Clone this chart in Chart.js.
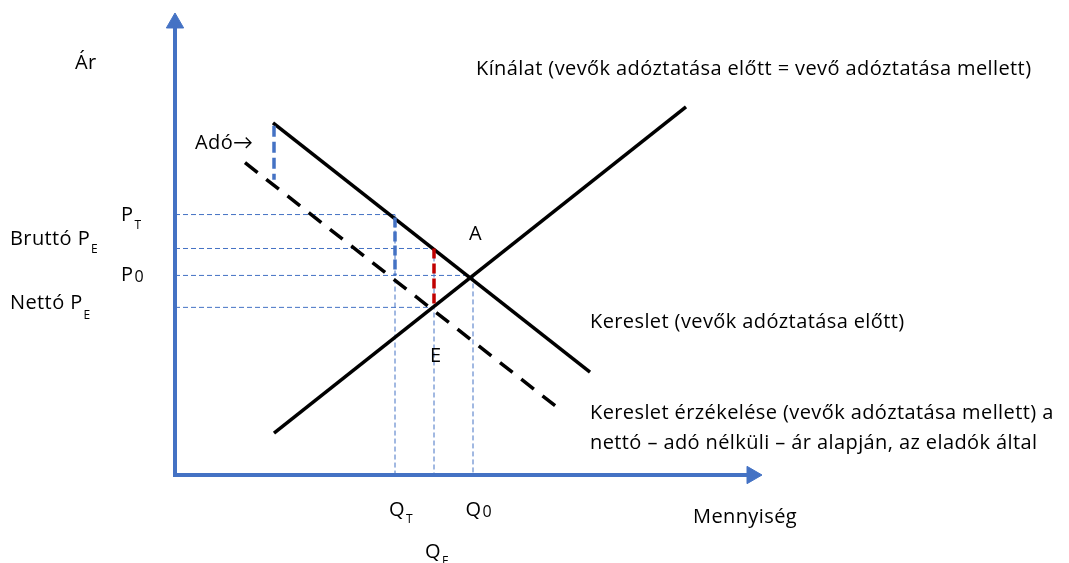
<!DOCTYPE html>
<html>
<head>
<meta charset="utf-8">
<script src="https://cdn.jsdelivr.net/npm/chart.js@4.4.1/dist/chart.umd.min.js"></script>
<style>
  html, body { margin: 0; padding: 0; background: #fff; }
  canvas { display: block; }
</style>
</head>
<body>
<canvas id="taxChart" width="1069" height="563"></canvas>
<script>
// curves (quantity, price)
const supplyQ = [19.8, 102.2];
const supplyP = [8.4, 73.8];
const demandQ = [19.6, 83.0];
const demandP = [70.6, 20.6];
const perceivedQ = [14.0, 77.4];
const perceivedP = [62.6, 12.8];

// marked levels
const priceNames = ['P_T', 'Bruttó P_E', 'P_0', 'Nettó P_E'];
const priceLevels = [52.2, 45.4, 40.0, 33.6];
const quantityNames = ['Q_T', 'Q_E', 'Q_0'];
const quantityLevels = [44.0, 51.8, 59.6];

// tax wedges
const taxQ = 19.8;
const taxP = [70.0, 59.2];
const buyerTaxP = [51.6, 40.0];

const axisTop = 90.6;
const axisRight = 115.4;

const BLUE = '#4472C4';
const RED = '#C00000';
const FONT = '"Open Sans", Lato, sans-serif';
const FONT_SIZE = 20;

const pts = (xs, ys) => xs.map((x, i) => ({ x: x, y: ys[i] }));

function guide(points) {
    return {
        data: points,
        borderColor: BLUE,
        borderWidth: 1,
        borderDash: [5, 3],
        pointRadius: 0,
        order: 5
    };
}

const guides = [
    guide([{ x: 0, y: priceLevels[0] }, { x: quantityLevels[0], y: priceLevels[0] }]),
    guide([{ x: 0, y: priceLevels[1] }, { x: quantityLevels[1], y: priceLevels[1] }]),
    guide([{ x: 0, y: priceLevels[2] }, { x: quantityLevels[2], y: priceLevels[2] }]),
    guide([{ x: 0, y: priceLevels[3] }, { x: quantityLevels[1], y: priceLevels[3] }]),
    guide([{ x: quantityLevels[0], y: priceLevels[0] }, { x: quantityLevels[0], y: 0 }]),
    guide([{ x: quantityLevels[1], y: priceLevels[1] }, { x: quantityLevels[1], y: 0 }]),
    guide([{ x: quantityLevels[2], y: priceLevels[2] }, { x: quantityLevels[2], y: 0 }])
];

// text labels, placed in data units (left edge, vertical middle)
const labels = [
    { text: 'Ár', x: -20, y: 82.6 },
    { text: 'Kínálat (vevők adóztatása előtt = vevő adóztatása mellett)', x: 60.2, y: 81.4 },
    { text: 'Adó→', x: 4, y: 66.4 },
    { text: 'P', sub: 'T', x: -10.8, y: 52.0, subSize: 12, subDy: 10 },
    { text: 'Bruttó P', sub: 'E', x: -33, y: 47.3, subSize: 12, subDy: 11 },
    { text: 'A', x: 58.8, y: 48.2 },
    { text: 'P', sub: '0', x: -10.8, y: 40.0, subSize: 16, subDy: 2 },
    { text: 'Nettó P', sub: 'E', x: -33, y: 34.4, subSize: 12, subDy: 12 },
    { text: 'Kereslet (vevők adóztatása előtt)', x: 83, y: 30.6 },
    { text: 'E', x: 51, y: 23.8 },
    { text: 'Kereslet érzékelése (vevők adóztatása mellett) a', x: 83, y: 12.4 },
    { text: 'nettó – adó nélküli – ár alapján, az eladók által', x: 83, y: 6.4 },
    { text: 'Q', sub: 'T', x: 42.8, y: -7.0, subSize: 12, subDy: 10 },
    { text: 'Q', sub: '0', x: 58.1, y: -7.0, subSize: 16, subDy: 3 },
    { text: 'Mennyiség', x: 103.6, y: -8.4 },
    { text: 'Q', sub: 'E', x: 50, y: -15.4, subSize: 12, subDy: 10 }
];

const labelPlugin = {
    id: 'labels',
    afterDatasetsDraw(chart) {
        const ctx = chart.ctx;
        const xs = chart.scales.x;
        const ys = chart.scales.y;
        ctx.save();
        ctx.fillStyle = '#000';
        ctx.textBaseline = 'middle';
        ctx.textAlign = 'left';
        ctx.letterSpacing = '0.4px';
        for (const l of labels) {
            const px = xs.getPixelForValue(l.x);
            const py = ys.getPixelForValue(l.y);
            ctx.font = FONT_SIZE + 'px ' + FONT;
            ctx.fillText(l.text, px, py);
            if (l.sub) {
                const w = ctx.measureText(l.text).width;
                ctx.font = l.subSize + 'px ' + FONT;
                ctx.fillText(l.sub, px + w + 1, py + l.subDy);
            }
        }
        ctx.restore();
    }
};

const ctx = document.getElementById('taxChart').getContext('2d');
new Chart(ctx, {
    type: 'line',
    data: {
        datasets: [
            ...guides,
            {
                // y axis with arrow
                data: [{ x: 0, y: 0 }, { x: 0, y: axisTop }],
                borderColor: BLUE,
                borderWidth: 4,
                borderCapStyle: 'square',
                pointRadius: [0, 10],
                pointStyle: 'triangle',
                rotation: 0,
                pointBackgroundColor: BLUE,
                pointBorderColor: BLUE,
                pointBorderWidth: 1,
                order: 3
            },
            {
                // x axis with arrow
                data: [{ x: 0, y: 0 }, { x: axisRight, y: 0 }],
                borderColor: BLUE,
                borderWidth: 4,
                borderCapStyle: 'square',
                pointRadius: [0, 10],
                pointStyle: 'triangle',
                rotation: 90,
                pointBackgroundColor: BLUE,
                pointBorderColor: BLUE,
                pointBorderWidth: 1,
                order: 3
            },
            {
                label: 'Kínálat',
                data: pts(supplyQ, supplyP),
                borderColor: '#000',
                borderWidth: 3.5,
                pointRadius: 0,
                order: 1
            },
            {
                label: 'Kereslet',
                data: pts(demandQ, demandP),
                borderColor: '#000',
                borderWidth: 3.5,
                pointRadius: 0,
                order: 1
            },
            {
                label: 'Kereslet érzékelése',
                data: pts(perceivedQ, perceivedP),
                borderColor: '#000',
                borderWidth: 3.5,
                borderDash: [16, 11],
                pointRadius: 0,
                order: 1
            },
            {
                label: 'Adó',
                data: [{ x: taxQ, y: taxP[0] }, { x: taxQ, y: taxP[1] }],
                borderColor: BLUE,
                borderWidth: 3.5,
                borderDash: [11, 5],
                pointRadius: 0,
                order: 0
            },
            {
                label: 'Adó (Q_T)',
                data: [{ x: quantityLevels[0], y: buyerTaxP[0] }, { x: quantityLevels[0], y: buyerTaxP[1] }],
                borderColor: BLUE,
                borderWidth: 3.5,
                borderDash: [10, 4],
                pointRadius: 0,
                order: 0
            },
            {
                label: 'Adó (Q_E)',
                data: [{ x: quantityLevels[1], y: priceLevels[1] }, { x: quantityLevels[1], y: priceLevels[3] }],
                borderColor: RED,
                borderWidth: 3.5,
                borderDash: [10, 5],
                pointRadius: 0,
                order: 0
            }
        ]
    },
    options: {
        responsive: false,
        animation: false,
        layout: { padding: { left: 175, right: 294, top: 10, bottom: 88 } },
        datasets: { line: { clip: false, tension: 0 } },
        scales: {
            x: { type: 'linear', min: 0, max: 120, display: false },
            y: { type: 'linear', min: 0, max: 93, display: false }
        },
        plugins: {
            legend: { display: false },
            tooltip: { enabled: false }
        }
    },
    plugins: [labelPlugin]
});
</script>
</body>
</html>
